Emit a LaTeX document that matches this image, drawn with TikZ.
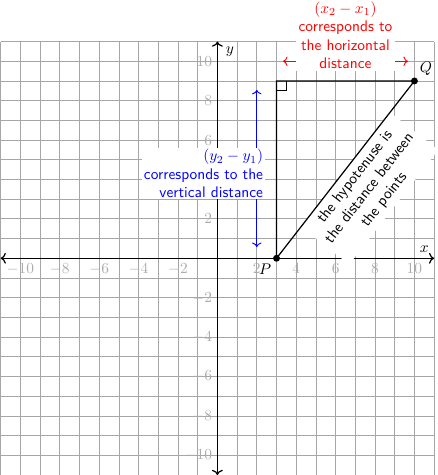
\documentclass[tikz,border=0pt]{standalone}
\usetikzlibrary{arrows.meta}
\begin{document}
\begin{tikzpicture}[x=0.45cm,y=0.45cm,
  gridline/.style={gray!70,line width=0.5pt},
  ticklab/.style={text=gray!65},
  axis/.style={thick,<->},
  tri/.style={thick},
  span/.style={semithick,<->},
  dot/.style={circle,fill=black,inner sep=0pt,minimum size=4.5pt},
  note/.style={font=\sffamily,fill=white,align=center}]
\useasboundingbox (-11.035,-11) rectangle (11.15,13.11);
\draw[gridline,step=0.45cm] (-11,-11) grid (11,11);
\foreach \i in {-10,-8,-6,-4,-2,2,4,6,8,10}{
  \node[ticklab,below] (xt\i) at (\i,0) {$\i$};
  \node[ticklab,left] (yt\i) at (0,\i) {$\i$};
}
\coordinate (xl) at (-11,0);
\coordinate (xr) at (11,0);
\coordinate (yb) at (0,-11);
\coordinate (ytop) at (0,11);
\draw[axis] (xl) -- (xr);
\draw[axis] (yb) -- (ytop);
\coordinate (P) at (3,0);
\coordinate (C) at (3,9);
\coordinate (Q) at (10,9);
\coordinate (ra) at (3.33,10);
\coordinate (rb) at (9.67,10);
\coordinate (ba) at (2,0.57);
\coordinate (bb) at (2,8.55);
\draw[span,red] (ra) -- (rb);
\draw[span,blue] (ba) -- (bb);
\node[note,text=red,anchor=south,inner sep=1.5pt] (rl) at (6.5,9.47)
  {$(x_2-x_1)$\\corresponds to\\the horizontal\\distance};
\node[note,text=blue,align=right,anchor=east,inner sep=1pt] (bl) at (2.41,4.3)
  {$(y_2-y_1)$\\corresponds to the\\vertical distance};
\path (P) -- (Q) node[note,midway,below,sloped] (hl)
  {the hypotenuse is\\the distance between\\the points};
\draw[tri] (P) -- (C) -- (Q) -- (P);
\draw[line width=0.6pt] (C) ++(0.5,0) |- ++(-0.5,-0.5);
\node[dot] (Pd) at (P) {};
\node[dot] (Qd) at (Q) {};
\node[below left] (pl) at (P) {$P$};
\node[above right] (ql) at (Q) {$Q$};
\node[above left] (xlab) at (xr) {$x$};
\node[below right,xshift=2pt] (ylab) at (ytop) {$y$};
\end{tikzpicture}
\end{document}
